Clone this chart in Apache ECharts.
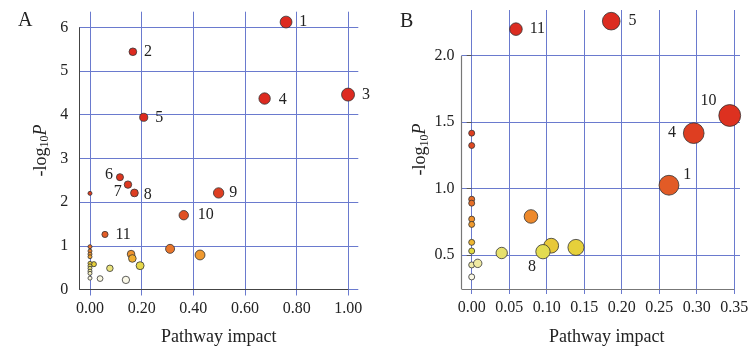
<!DOCTYPE html>
<html><head><meta charset="utf-8">
<script src="https://cdn.jsdelivr.net/npm/echarts@6/dist/echarts.min.js"></script>
<style>html,body{margin:0;padding:0;background:#fff}#c{width:752px;height:353px}</style>
</head><body><div id="c"></div>
<script>
// ---------- Panel A data ----------
const aImpact = [0.759,0.166,0.999,0.676,0.208,0.116,0.147,0.172,0.498,0.363,0.058,
  0,0.31,0.426,0.159,0.164,0.194,0.077,0.039,0.139,0.015,
  0,0,0,0,0,0,0,0,0,0];
const aLogP = [6.12,5.44,4.46,4.37,3.94,2.57,2.40,2.21,2.21,1.70,1.26,
  2.20,0.93,0.79,0.81,0.71,0.545,0.485,0.25,0.22,0.58,
  0.98,0.88,0.81,0.75,0.60,0.54,0.485,0.42,0.37,0.26];
const aLabel = ['1','2','3','4','5','6','7','8','9','10','11',
  '','','','','','','','','','',
  '','','','','','','','','',''];
const aXTicks = [0,0.2,0.4,0.6,0.8,1.0];
const aYTicks = [0,1,2,3,4,5,6];

// ---------- Panel B data ----------
const bImpact = [0,0,0,0,0,0,0,0,0,0,
  0.059,0.186,0.344,0.296,0.263,0.079,0.106,0.139,0.095,0.040,0.008];
const bLogP = [1.417,1.324,0.92,0.89,0.77,0.73,0.595,0.53,0.425,0.335,
  2.20,2.26,1.55,1.417,1.025,0.79,0.57,0.557,0.525,0.515,0.437];
const bLabel = ['','','','','','','','','','',
  '11','5','10','4','1','','','','8','',''];
const bXTicks = [0,0.05,0.10,0.15,0.20,0.25,0.30,0.35];
const bYTicks = [0.5,1.0,1.5,2.0];

// ---------- styles ----------
const FONT = "'Liberation Serif','Times New Roman',serif";
const BLUE = '#6a7ace';
const TXT = '#222';

const stopsA = [[0.2,'#fcfbee'],[0.35,'#f4efc6'],[0.5,'#e9e274'],[0.56,'#e6d53c'],[0.7,'#f0b030'],[0.82,'#ef922e'],[0.95,'#e8702a'],[1.3,'#e25a26'],[1.8,'#e04e24'],[2.3,'#de3a20'],[3.5,'#dd2a20']];
const stopsB = [[0.33,'#fbf9ea'],[0.43,'#f0eba6'],[0.51,'#e7e27a'],[0.53,'#e2da42'],[0.56,'#e6cf3a'],[0.6,'#f0b430'],[0.75,'#f0962e'],[0.85,'#e9762a'],[1.0,'#e25c26'],[1.3,'#e04a22'],[1.6,'#dc2c20']];

function hex(c){return [parseInt(c.slice(1,3),16),parseInt(c.slice(3,5),16),parseInt(c.slice(5,7),16)];}
function colorAt(stops,v){
  if(v<=stops[0][0]) return stops[0][1];
  for(let i=1;i<stops.length;i++){
    if(v<=stops[i][0]){
      const t=(v-stops[i-1][0])/(stops[i][0]-stops[i-1][0]);
      const a=hex(stops[i-1][1]), b=hex(stops[i][1]);
      return 'rgb('+a.map((x,k)=>Math.round(x+(b[k]-x)*t)).join(',')+')';
    }
  }
  return stops[stops.length-1][1];
}

const labelA = {
  '6':{position:'left',distance:3,offset:[0,-2]},
  '7':{position:'left',distance:2,offset:[0,7]},
  '8':{position:'right',distance:5,offset:[0,2]},
  '9':{position:'right',distance:5},
  '10':{position:'right',distance:9},
  '4':{position:'right',distance:8,offset:[0,1]}
};
const labelB = {
  '10':{position:'left',distance:2,offset:[0,-15]},
  '4':{position:'left',distance:7},
  '1':{position:'right',distance:4,offset:[0,-10]},
  '8':{position:'bottom',distance:0,offset:[-11,0]},
  '5':{position:'right',distance:8},
  '11':{position:'right',distance:7}
};

function buildData(xs,ys,names,stops,lbl){
  return xs.map((x,i)=>{
    const item={value:[x,ys[i]],name:names[i],itemStyle:{color:colorAt(stops,ys[i])}};
    if(names[i]) item.label=Object.assign({show:true},lbl[names[i]]||{position:'right',distance:7});
    return item;
  });
}

const labelFont = {fontFamily:FONT,fontSize:16,color:TXT};
const tickFont = {fontFamily:FONT,fontSize:16,color:TXT};
const yName = '{t|-log}{s|10}{i|P}';
const yNameStyle = {fontFamily:FONT,fontSize:18,color:TXT,
  rich:{t:{fontFamily:FONT,fontSize:18,color:TXT,lineHeight:20},
        s:{fontFamily:FONT,fontSize:12,color:TXT,lineHeight:8,verticalAlign:'bottom'},
        i:{fontFamily:FONT,fontSize:18,color:TXT,fontStyle:'italic',lineHeight:20}}};

const aXMin=-0.0414, aXMax=1.0387, aYMin=0, aYMax=6.357;
const bXMin=-0.0136, bXMax=0.3577, bYMin=0.244, bYMax=2.344;

const chart = echarts.init(document.getElementById('c'),null,{renderer:'canvas'});
chart.setOption({
  animation:false,
  backgroundColor:'#fff',
  title:[
    {text:'A',left:13,top:6,textStyle:{fontFamily:FONT,fontSize:20,fontWeight:'normal',color:TXT}},
    {text:'B',left:395,top:7,textStyle:{fontFamily:FONT,fontSize:20,fontWeight:'normal',color:TXT}}
  ],
  grid:[
    {left:79.3,top:11.7,width:279,height:277.8},
    {left:461.5,top:10,width:278.5,height:279}
  ],
  xAxis:[
    {gridIndex:0,type:'value',min:aXMin,max:aXMax,
     axisLine:{show:false},
     axisTick:{show:true,customValues:aXTicks,length:6,lineStyle:{color:BLUE}},
     axisLabel:Object.assign({customValues:aXTicks,margin:11,formatter:v=>v.toFixed(2)},tickFont),
     splitLine:{show:true,lineStyle:{color:BLUE,width:1}},
     name:'Pathway impact',nameLocation:'middle',nameGap:39,
     nameTextStyle:{fontFamily:FONT,fontSize:18,color:TXT}},
    {gridIndex:1,type:'value',min:bXMin,max:bXMax,
     axisLine:{show:false},
     axisTick:{show:true,customValues:bXTicks,length:5,lineStyle:{color:BLUE}},
     axisLabel:Object.assign({customValues:bXTicks,margin:11,formatter:v=>v.toFixed(2)},tickFont),
     splitLine:{show:true,lineStyle:{color:BLUE,width:1}},
     name:'Pathway impact',nameLocation:'middle',nameGap:39,
     nameTextStyle:{fontFamily:FONT,fontSize:18,color:TXT,padding:[0,0,0,12]}}
  ],
  yAxis:[
    {gridIndex:0,type:'value',min:aYMin,max:aYMax,
     axisLine:{show:false},
     axisTick:{show:true,customValues:aYTicks,length:5,lineStyle:{color:BLUE}},
     axisLabel:Object.assign({customValues:aYTicks,margin:11},tickFont),
     splitLine:{show:true,lineStyle:{color:BLUE,width:1}},
     name:yName,nameLocation:'middle',nameGap:28,nameTextStyle:yNameStyle},
    {gridIndex:1,type:'value',min:bYMin,max:bYMax,
     axisLine:{show:false},
     axisTick:{show:true,customValues:bYTicks,length:5,lineStyle:{color:'#555'}},
     axisLabel:Object.assign({customValues:bYTicks,margin:7,formatter:v=>v.toFixed(1)},tickFont),
     splitLine:{show:true,lineStyle:{color:BLUE,width:1}},
     name:yName,nameLocation:'middle',nameGap:31,nameTextStyle:yNameStyle}
  ],
  series:[
    {type:'scatter',xAxisIndex:0,yAxisIndex:0,clip:false,
     data:buildData(aImpact,aLogP,aLabel,stopsA,labelA),
     symbolSize:v=>4+9*Math.sqrt(v[0]),
     itemStyle:{borderColor:'#333',borderWidth:0.8,opacity:1},
     label:Object.assign({show:false,formatter:p=>p.name},labelFont),
     emphasis:{disabled:true},
     markLine:{silent:true,symbol:'none',label:{show:false},animation:false,
       lineStyle:{color:'#444',width:1,type:'solid'},
       data:[
         [{coord:[aXMin,aYTicks[0]]},{coord:[aXMin,aYTicks[aYTicks.length-1]]}],
         [{coord:[aXMin,aYTicks[0]]},{coord:[aXTicks[aXTicks.length-1],aYTicks[0]]}]
       ]}},
    {type:'scatter',xAxisIndex:1,yAxisIndex:1,clip:false,
     data:buildData(bImpact,bLogP,bLabel,stopsB,labelB),
     symbolSize:v=>6+27*Math.sqrt(v[0]),
     itemStyle:{borderColor:'#333',borderWidth:0.8,opacity:1},
     label:Object.assign({show:false,formatter:p=>p.name},labelFont),
     emphasis:{disabled:true},
     markLine:{silent:true,symbol:'none',label:{show:false},animation:false,
       lineStyle:{color:'#777',width:1.2,type:'solid'},
       data:[
         [{coord:[bXMin,bYMin]},{coord:[bXMin,bYTicks[bYTicks.length-1]]}],
         [{coord:[bXMin,bYMin]},{coord:[bXTicks[bXTicks.length-1],bYMin]}]
       ]}}
  ]
});
</script></body></html>
